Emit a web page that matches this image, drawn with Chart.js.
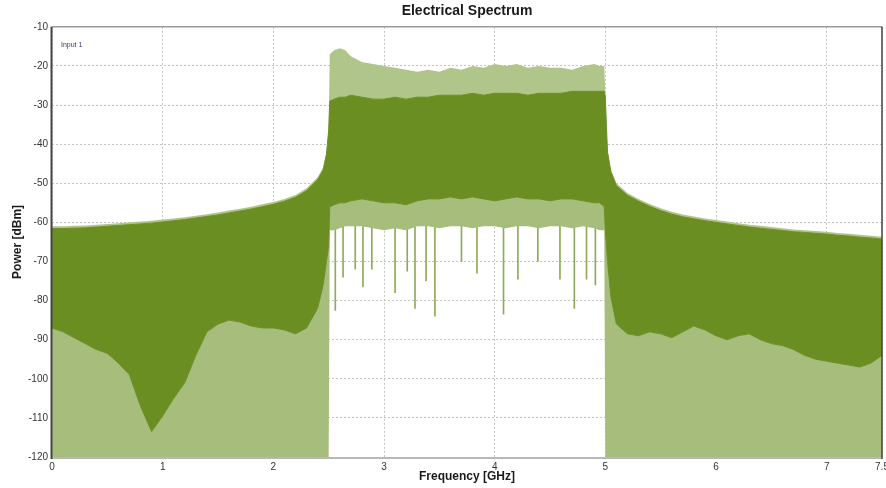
<!DOCTYPE html>
<html><head><meta charset="utf-8">
<script src="https://cdn.jsdelivr.net/npm/chart.js@4.4.1/dist/chart.umd.min.js"></script>
<style>html,body{margin:0;padding:0;background:#fff}canvas{display:block}</style>
</head><body>
<canvas id="c" width="886" height="488"></canvas>
<script>
// ---- data ----
const chartTitle = 'Electrical Spectrum';
const seriesName = 'Input 1';
const xTitle = 'Frequency [GHz]';
const yTitle = 'Power [dBm]';
const xTickValues = [0, 1, 2, 3, 4, 5, 6, 7, 7.5];

const freqGHz = [
  0,0.1,0.2,0.3,0.4,0.5,0.6,0.7,0.8,0.9,1.0,1.1,1.2,1.3,1.4,1.5,1.6,1.7,1.8,1.9,2.0,2.1,2.2,2.3,2.4,
  2.45,2.48,2.5,2.51,2.55,2.6,2.65,2.7,
  2.8,2.9,3.0,3.1,3.2,3.3,3.4,3.5,3.6,3.7,3.8,3.9,4.0,4.1,4.2,4.3,4.4,4.5,4.6,4.7,4.8,4.9,
  4.95,4.99,5.0,5.01,5.02,5.05,5.1,
  5.2,5.3,5.4,5.5,5.6,5.7,5.8,5.9,6.0,6.1,6.2,6.3,6.4,6.5,6.6,6.7,6.8,6.9,7.0,7.1,7.2,7.3,7.4,7.5
];
// top of the light spikes (dBm)
const peakTop = [
  -61,-61,-60.9,-60.8,-60.6,-60.4,-60.2,-60,-59.8,-59.6,-59.3,-59,-58.7,-58.3,-57.9,-57.5,-57,-56.5,-56,-55.4,-54.8,-54,-53,-51.3,-48.5,
  -46,-42,-36,-17,-16,-15.5,-16,-17.5,
  -19,-19.5,-20,-20.5,-21,-21.5,-21,-21.5,-20.5,-21,-20,-20.5,-19.5,-20,-19.5,-20.5,-20,-20.5,-20.5,-21,-20,-19.5,
  -20,-20,-27,-35,-41.5,-46.5,-50,
  -52.5,-54,-55.3,-56.4,-57.3,-58,-58.5,-59,-59.4,-59.8,-60.2,-60.6,-60.9,-61.2,-61.5,-61.8,-62,-62.2,-62.4,-62.7,-62.9,-63.2,-63.4,-63.7
];
// top edge of the solid (dense) trace
const solidTop = [
  -61.6,-61.6,-61.5,-61.4,-61.2,-61,-60.8,-60.6,-60.4,-60.2,-59.9,-59.6,-59.3,-58.9,-58.5,-58.1,-57.6,-57.1,-56.6,-56,-55.4,-54.6,-53.6,-51.9,-49.1,
  -46.6,-42.6,-36.6,-29,-28.5,-28,-28,-27.5,
  -28,-28.5,-28.5,-28,-28.5,-28,-28,-27.5,-27.5,-27.5,-27,-27.5,-27,-27,-27,-27.5,-27,-27,-27,-26.5,-26.5,-26.5,
  -26.5,-26.5,-28,-35.6,-42.1,-47.1,-50.6,
  -53.1,-54.6,-55.9,-57,-57.9,-58.6,-59.1,-59.6,-60,-60.4,-60.8,-61.2,-61.5,-61.8,-62.1,-62.4,-62.6,-62.8,-63,-63.3,-63.5,-63.8,-64,-64.3
];
// bottom edge of the solid (dense) trace
const solidBottom = [
  -87,-88,-89.5,-91,-92.5,-93.5,-96,-99,-107,-113.5,-109.5,-105,-101,-94,-88,-86,-85,-85.5,-86.5,-87,-87,-87.5,-88.5,-87,-82,
  -76,-70,-66,-56,-55.5,-55,-55,-54.5,
  -54,-54.5,-55,-55,-55.5,-54.5,-54,-54,-53.5,-54,-53.5,-54,-54.5,-54,-53.5,-54,-54,-54.5,-54,-54,-54.5,-55,
  -55,-56,-62,-66,-70,-79,-86,
  -88.5,-89,-88,-88.5,-89.5,-88,-86.5,-87.5,-89,-90,-89,-88.5,-90,-91,-91.5,-92.5,-94,-95,-95.5,-96,-96.5,-97,-96,-94
];
// lowest reach of the dense downward spikes
const spikeFloor = [
  -120,-120,-120,-120,-120,-120,-120,-120,-120,-120,-120,-120,-120,-120,-120,-120,-120,-120,-120,-120,-120,-120,-120,-120,-120,
  -120,-120,-120,-62,-62,-61.5,-61,-61,
  -61,-61.5,-62,-61.5,-62,-61,-61,-61.5,-61,-61,-61.5,-61,-61,-61.5,-61,-61,-61.5,-61,-61,-61.5,-61,-61.5,
  -62,-62,-120,-120,-120,-120,-120,
  -120,-120,-120,-120,-120,-120,-120,-120,-120,-120,-120,-120,-120,-120,-120,-120,-120,-120,-120,-120,-120,-120,-120,-120
];
// isolated deep in-band dips
const dipFreqGHz = [2.56,2.63,2.74,2.81,2.89,3.10,3.21,3.28,3.38,3.46,3.70,3.84,4.08,4.21,4.39,4.59,4.72,4.83,4.91];
const dipLevel   = [-82.5,-74,-72,-76.5,-72,-78,-72.5,-82,-75,-84,-70,-73,-83.5,-74.5,-70,-74.5,-82,-74.5,-76];
const dipStart = -58;

// ---- styling ----
const OLIVE = '#6b8e23';
const UPPER_LIGHT = '#b0c589';
const LOWER_LIGHT = '#a6bd7b';
const canvas = document.getElementById('c');
const ctx = canvas.getContext('2d');

const pts = arr => freqGHz.map((f, i) => ({x: f, y: arr[i]}));
const FONT = "'Liberation Sans', Arial, sans-serif";

const framePlugin = {
  id: 'frame',
  afterDatasetsDraw(chart) {
    const {ctx, chartArea: a} = chart;
    ctx.save();
    ctx.lineCap = 'butt';
    ctx.strokeStyle = '#9a9a9a'; ctx.lineWidth = 1.5;
    ctx.beginPath(); ctx.moveTo(a.left, a.top); ctx.lineTo(a.right, a.top); ctx.stroke();
    ctx.strokeStyle = '#b8b8b8'; ctx.lineWidth = 2;
    ctx.beginPath(); ctx.moveTo(a.left, a.bottom + 1); ctx.lineTo(a.right, a.bottom + 1); ctx.stroke();
    ctx.strokeStyle = '#444'; ctx.lineWidth = 2;
    ctx.beginPath(); ctx.moveTo(a.left - 0.5, a.top); ctx.lineTo(a.left - 0.5, a.bottom + 2); ctx.stroke();
    ctx.lineWidth = 1.5;
    ctx.beginPath(); ctx.moveTo(a.right, a.top); ctx.lineTo(a.right, a.bottom + 2); ctx.stroke();
    ctx.fillStyle = '#3a3a5a';
    ctx.font = '7px ' + FONT;
    ctx.textBaseline = 'middle';
    ctx.fillText(chart.data.datasets[0].label, a.left + 9, a.top + 18);
    ctx.restore();
  }
};

new Chart(ctx, {
  type: 'line',
  data: {
    datasets: [
      { label: seriesName, data: pts(solidTop), fill: 1, backgroundColor: OLIVE, borderColor: OLIVE, borderWidth: 1, pointRadius: 0 },
      { label: 'solidBottom', data: pts(solidBottom), fill: 3, backgroundColor: LOWER_LIGHT, borderColor: OLIVE, borderWidth: 1, pointRadius: 0 },
      { label: 'peakTop', data: pts(peakTop), fill: 0, backgroundColor: UPPER_LIGHT, borderColor: 'rgba(0,0,0,0)', borderWidth: 1, pointRadius: 0 },
      { label: 'floor', data: pts(spikeFloor), fill: false, borderColor: 'rgba(0,0,0,0)', borderWidth: 1, pointRadius: 0 },
      { type: 'bar', label: 'dips', data: dipFreqGHz.map((f, i) => ({x: f, y: [dipStart, dipLevel[i]]})),
        backgroundColor: '#8fab57', barThickness: 1, borderWidth: 0 }
    ]
  },
  options: {
    responsive: false,
    animation: false,
    devicePixelRatio: 1,
    layout: { padding: { left: 0, right: 4, top: 0, bottom: 0 } },
    plugins: {
      legend: { display: false },
      tooltip: { enabled: false },
      title: {
        display: true, text: chartTitle, fullSize: false, color: '#1a1a1a',
        font: { family: FONT, size: 14, weight: 'bold' }, padding: { top: 3, bottom: 7 }
      }
    },
    scales: {
      x: {
        type: 'linear', min: 0, max: 7.5, offset: false,
        afterBuildTicks: s => { s.ticks = xTickValues.map(v => ({value: v})); },
        afterFit: s => { s.height = 31; s.paddingLeft = 0; s.paddingRight = 0; },
        ticks: { color: '#333', font: { family: FONT, size: 10 }, padding: 4, maxRotation: 0, autoSkip: false,
                 callback: v => String(v) },
        grid: { color: '#c4c4c4', lineWidth: 1, drawTicks: false, offset: false },
        border: { display: false, dash: [2, 2] },
        title: { display: true, text: xTitle, color: '#1a1a1a', font: { family: FONT, size: 12, weight: 'bold' }, padding: { top: 0, bottom: 4 } }
      },
      y: {
        type: 'linear', min: -120, max: -10,
        afterFit: s => { s.width = 52; },
        ticks: { stepSize: 10, color: '#333', font: { family: FONT, size: 10 }, padding: 4 },
        grid: { color: '#c4c4c4', lineWidth: 1, drawTicks: false },
        border: { display: false, dash: [2, 2] },
        title: { display: true, text: yTitle, color: '#1a1a1a', font: { family: FONT, size: 12, weight: 'bold' }, padding: { top: 10, bottom: 0 } }
      }
    }
  },
  plugins: [framePlugin]
});
</script>
</body></html>
